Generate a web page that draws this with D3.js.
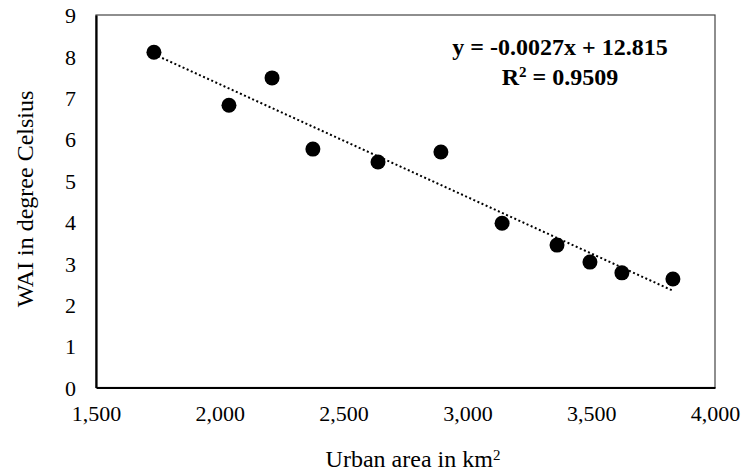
<!DOCTYPE html>
<html>
<head>
<meta charset="utf-8">
<script src="https://cdn.jsdelivr.net/npm/d3@7"></script>
<style>
  html, body { margin: 0; padding: 0; background: #fff; }
  svg { display: block; }
  text { font-family: "Liberation Serif", "Times New Roman", serif; fill: #000; }
</style>
</head>
<body>
<svg id="chart" width="744" height="474"></svg>
<script>
// Data
const urbanArea = [1734, 2037, 2211, 2376, 2639, 2893, 3140, 3362, 3495, 3624, 3830];
const wai       = [8.10, 6.82, 7.48, 5.76, 5.45, 5.69, 3.97, 3.44, 3.03, 2.77, 2.62];
const xTicks = [1500, 2000, 2500, 3000, 3500, 4000];
const yTicks = [0, 1, 2, 3, 4, 5, 6, 7, 8, 9];
const equationLine1 = "y = -0.0027x + 12.815";
const equationLine2 = ["R", "2", " = 0.9509"];
const xTitle = "Urban area in km";
const yTitle = "WAI in degree Celsius";

const FONT = "'Liberation Serif', 'Times New Roman', serif";
const svg = d3.select("#chart");
const m = { left: 96, right: 715, top: 15, bottom: 387.5 };

const x = d3.scaleLinear().domain([1500, 4000]).range([m.left, m.right]);
const y = d3.scaleLinear().domain([0, 9]).range([m.bottom, m.top]);

// plot area frame
svg.append("rect")
  .attr("x", m.left).attr("y", m.top)
  .attr("width", m.right - m.left).attr("height", m.bottom - m.top)
  .attr("fill", "none").attr("stroke", "#444").attr("stroke-width", 1.2);

// axes
const xAxis = svg.append("g").attr("transform", `translate(0,${m.bottom})`)
  .call(d3.axisBottom(x).tickValues(xTicks).tickSize(0).tickPadding(18)
    .tickFormat(d3.format(",")));
const yAxis = svg.append("g").attr("transform", `translate(${m.left},0)`)
  .call(d3.axisLeft(y).tickValues(yTicks).tickSize(0).tickPadding(20)
    .tickFormat(d3.format("d")));
[xAxis, yAxis].forEach(g => {
  g.attr("font-family", FONT).attr("font-size", 22);
  g.select(".domain").attr("stroke", "#000").attr("stroke-width", 2.2);
  g.selectAll("text").style("font-family", FONT)
    .style("font-size", "22px").attr("fill", "#000");
});
yAxis.selectAll("text").attr("dy", "0.35em");

// trend line (least squares from data)
const mx = d3.mean(urbanArea), my = d3.mean(wai);
let sxy = 0, sxx = 0;
urbanArea.forEach((v, i) => { sxy += (v - mx) * (wai[i] - my); sxx += (v - mx) ** 2; });
const slope = sxy / sxx, icpt = my - slope * mx;
const x0 = d3.min(urbanArea), x1 = d3.max(urbanArea);
svg.append("line")
  .attr("x1", x(x0)).attr("y1", y(slope * x0 + icpt))
  .attr("x2", x(x1)).attr("y2", y(slope * x1 + icpt))
  .attr("stroke", "#000").attr("stroke-width", 2)
  .attr("stroke-dasharray", "2,2.5");

// points
svg.append("g").selectAll("circle")
  .data(urbanArea.map((v, i) => [v, wai[i]]))
  .join("circle")
  .attr("cx", d => x(d[0])).attr("cy", d => y(d[1]))
  .attr("r", 7.5).attr("fill", "#000");

// equation
const eqStyle = t => t.attr("text-anchor", "middle").style("font-family", FONT)
  .style("font-weight", "bold").style("font-size", "24px");
svg.append("text").attr("x", 560).attr("y", 55).call(eqStyle).text(equationLine1);
const r2 = svg.append("text").attr("x", 560).attr("y", 85).call(eqStyle);
r2.append("tspan").text(equationLine2[0]);
r2.append("tspan").attr("dy", -8).style("font-size", "15px").text(equationLine2[1]);
r2.append("tspan").attr("dy", 8).text(equationLine2[2]);

// axis titles
const xt = svg.append("text")
  .attr("x", 413).attr("y", 467)
  .attr("text-anchor", "middle").style("font-family", FONT).style("font-size", "24px");
xt.append("tspan").text(xTitle);
xt.append("tspan").attr("dy", -7).style("font-size", "15px").text("2");

svg.append("text")
  .attr("transform", "translate(33,199) rotate(-90)")
  .attr("text-anchor", "middle").style("font-family", FONT).style("font-size", "24px")
  .text(yTitle);
</script>
</body>
</html>
